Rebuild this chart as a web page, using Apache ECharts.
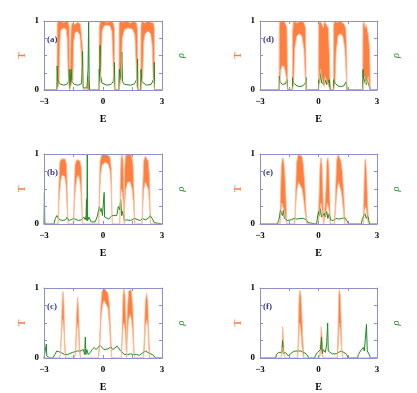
<!DOCTYPE html>
<html>
<head>
<meta charset="utf-8">
<script src="https://cdn.jsdelivr.net/npm/echarts@6/dist/echarts.min.js"></script>
<style>
  html, body { margin: 0; padding: 0; background: #fff; }
  #chart { width: 417px; height: 393px; }
</style>
</head>
<body>
<div id="chart"></div>
<script>
// T upper / lower envelopes and rho for every panel, [E, value]
const tHiA = [[-3,0],[-2.34,0],[-2.33,0.95],[-2.3,1],[-2.2,0.98],[-2.1,1],[-2.0,0.97],[-1.9,1],[-1.78,0.99],[-1.72,0.93],[-1.70,0],
  [-1.63,0],[-1.62,0.9],[-1.58,0.97],[-1.45,0.95],[-1.3,0.98],[-1.15,0.96],[-1.06,0.94],[-1.03,0.6],[-1.01,0],
  [-0.81,0],[-0.79,0.15],[-0.75,0.2],[-0.7,0.1],[-0.68,0],
  [-0.2,0],[-0.19,0.9],[-0.14,1],[0.0,1],[0.2,0.98],[0.4,1],[0.52,0.97],[0.58,0.9],[0.6,0],
  [0.81,0],[0.82,0.95],[0.86,1],[1.0,0.98],[1.2,1],[1.4,0.97],[1.6,1],[1.72,0.96],[1.76,0.85],[1.77,0],
  [1.92,0],[1.93,0.92],[1.97,1],[2.12,0.97],[2.3,1],[2.45,0.98],[2.57,0.97],[2.61,0.9],[2.62,0],[3,0]];
const tLoA = [[-3,0],[-2.33,0],[-2.23,0.1],[-2.19,0.7],[-2.14,0.87],[-2.0,0.9],[-1.88,0.88],[-1.82,0.75],[-1.77,0.2],[-1.71,0],
  [-1.62,0],[-1.53,0.15],[-1.49,0.7],[-1.42,0.83],[-1.3,0.85],[-1.18,0.8],[-1.12,0.6],[-1.06,0.15],[-1.01,0],
  [-0.19,0],[-0.1,0.3],[-0.05,0.85],[0.05,0.93],[0.2,0.94],[0.35,0.93],[0.45,0.85],[0.5,0.5],[0.55,0.1],[0.6,0],
  [0.82,0],[0.93,0.2],[0.98,0.75],[1.1,0.88],[1.3,0.9],[1.5,0.88],[1.62,0.8],[1.68,0.4],[1.72,0.05],[1.77,0],
  [1.93,0],[2.02,0.2],[2.07,0.7],[2.15,0.82],[2.3,0.85],[2.42,0.82],[2.5,0.65],[2.55,0.2],[2.62,0],[3,0]];
const rhoA = [[-3,0],[-2.34,0],[-2.33,0.35],[-2.3,0.15],[-2.2,0.09],[-2.0,0.07],[-1.85,0.08],[-1.76,0.12],[-1.72,0.3],[-1.70,0],
  [-1.63,0],[-1.62,0.3],[-1.58,0.12],[-1.45,0.08],[-1.25,0.07],[-1.1,0.09],[-1.04,0.56],[-1.02,0.1],[-1.01,0.03],
  [-0.82,0.03],[-0.8,0.1],[-0.76,0.3],[-0.73,1.0],[-0.7,0.1],[-0.68,0],
  [-0.2,0],[-0.19,0.3],[-0.17,0.12],[-0.15,0.65],[-0.12,0.2],[-0.05,0.1],[0.2,0.07],[0.4,0.08],[0.52,0.12],[0.58,0.4],[0.6,0],
  [0.81,0],[0.83,0.3],[0.9,0.15],[0.96,0.55],[0.99,0.12],[1.1,0.08],[1.4,0.07],[1.6,0.09],[1.71,0.15],[1.76,0.45],[1.77,0],
  [1.92,0],[1.93,0.3],[1.98,0.12],[2.2,0.07],[2.45,0.08],[2.56,0.15],[2.61,0.4],[2.62,0],[3,0]];

const tHiB = [[-3,0],[-2.29,0],[-2.25,0.5],[-2.2,0.88],[-2.12,0.93],[-2.03,0.95],[-1.93,0.93],[-1.85,0.85],[-1.81,0.4],[-1.78,0],
  [-1.5,0],[-1.46,0.5],[-1.42,0.85],[-1.33,0.92],[-1.25,0.93],[-1.17,0.9],[-1.1,0.8],[-1.07,0.3],[-1.05,0],
  [-0.22,0],[-0.19,0.5],[-0.15,0.9],[-0.08,0.98],[0.05,1],[0.2,0.99],[0.35,0.96],[0.42,0.8],[0.45,0.3],[0.47,0],
  [0.85,0],[0.88,0.6],[0.92,0.95],[0.97,1],[1.02,0.9],[1.06,0.5],[1.08,0.15],
  [1.1,0.8],[1.15,0.98],[1.3,1],[1.45,0.98],[1.53,0.85],[1.58,0.4],[1.61,0],
  [1.98,0],[2.02,0.5],[2.07,0.9],[2.15,0.97],[2.22,0.98],[2.3,0.9],[2.36,0.7],[2.4,0.2],[2.42,0],[3,0]];
const tLoB = [[-3,0],[-2.28,0],[-2.24,0.3],[-2.2,0.45],[-2.15,0.62],[-2.08,0.7],[-2.02,0.72],[-1.95,0.68],[-1.88,0.55],[-1.84,0.3],[-1.8,0.1],[-1.78,0],
  [-1.49,0],[-1.45,0.3],[-1.4,0.5],[-1.33,0.66],[-1.25,0.7],[-1.18,0.62],[-1.12,0.45],[-1.08,0.2],[-1.05,0],
  [-0.21,0],[-0.17,0.4],[-0.12,0.7],[-0.05,0.84],[0.1,0.88],[0.25,0.86],[0.35,0.78],[0.41,0.55],[0.44,0.2],[0.47,0],
  [0.86,0],[0.89,0.35],[0.93,0.5],[0.98,0.45],[1.03,0.3],[1.06,0.1],[1.08,0],
  [1.11,0.3],[1.16,0.5],[1.25,0.6],[1.38,0.6],[1.48,0.5],[1.55,0.3],[1.59,0.05],[1.61,0],
  [1.99,0],[2.03,0.3],[2.08,0.5],[2.15,0.6],[2.23,0.62],[2.3,0.5],[2.35,0.35],[2.39,0.1],[2.42,0],[3,0]];
const rhoB = [[-3,0],[-2.98,0.45],[-2.96,0.02],[-2.85,0],[-2.5,0],[-2.42,0.08],[-2.35,0.12],[-2.28,0.09],[-2.2,0.06],[-2.05,0.05],
  [-1.9,0.06],[-1.82,0.1],[-1.75,0.05],[-1.62,0.06],[-1.5,0.08],[-1.4,0.07],[-1.25,0.05],[-1.1,0.06],[-0.98,0.1],[-0.9,0.06],
  [-0.86,0.12],[-0.84,0.35],[-0.82,0.05],[-0.8,1.0],[-0.78,0.05],[-0.72,0.1],[-0.6,0.03],[-0.4,0.03],[-0.3,0.1],[-0.22,0.2],
  [-0.18,0.25],[-0.12,0.18],[-0.08,0.22],[-0.03,0.12],[0.02,0.3],[0.06,0.45],[0.08,0.1],[0.15,0.08],[0.3,0.07],[0.45,0.12],
  [0.55,0.1],[0.7,0.12],[0.78,0.25],[0.85,0.2],[0.9,0.35],[0.95,0.12],[1.0,0.18],[1.08,0.05],[1.2,0.06],[1.4,0.05],
  [1.6,0.08],[1.7,0.1],[1.78,0.06],[1.9,0.05],[2.0,0.08],[2.15,0.06],[2.3,0.08],[2.4,0.12],[2.5,0.08],[2.6,0.02],[2.65,0],[3,0]];

const tHiC = [[-3,0],[-2.2,0],[-2.17,0.05],[-2.12,0.4],[-2.07,0.85],[-2.03,0.95],[-1.99,0.8],[-1.95,0.3],[-1.9,0.05],[-1.88,0],
  [-1.45,0],[-1.4,0.1],[-1.35,0.6],[-1.29,0.87],[-1.24,0.7],[-1.19,0.2],[-1.14,0],
  [-0.25,0],[-0.18,0.2],[-0.12,0.7],[-0.05,0.95],[0.05,1],[0.15,0.99],[0.25,0.93],[0.33,0.75],[0.4,0.3],[0.45,0],
  [0.93,0],[0.97,0.4],[1.02,0.9],[1.07,1],[1.12,0.9],[1.17,0.5],[1.2,0.15],
  [1.24,0.7],[1.3,0.95],[1.38,0.98],[1.45,0.95],[1.52,0.7],[1.57,0.2],[1.6,0],
  [2.05,0],[2.1,0.3],[2.15,0.8],[2.22,0.93],[2.28,0.8],[2.33,0.35],[2.38,0],[3,0]];
const tLoC = [[-3,0],[-2.19,0],[-2.14,0.15],[-2.09,0.4],[-2.05,0.55],[-2.02,0.5],[-1.98,0.35],[-1.95,0.15],[-1.91,0],
  [-1.44,0],[-1.38,0.1],[-1.33,0.4],[-1.29,0.5],[-1.25,0.4],[-1.21,0.12],[-1.15,0],
  [-0.24,0],[-0.16,0.15],[-0.1,0.55],[-0.03,0.75],[0.05,0.82],[0.15,0.82],[0.25,0.72],[0.32,0.5],[0.38,0.2],[0.44,0],
  [0.94,0],[0.98,0.25],[1.02,0.45],[1.07,0.5],[1.12,0.4],[1.16,0.2],[1.2,0],
  [1.24,0.3],[1.3,0.55],[1.38,0.62],[1.45,0.55],[1.51,0.35],[1.56,0.1],[1.6,0],
  [2.06,0],[2.11,0.15],[2.16,0.45],[2.22,0.55],[2.28,0.45],[2.32,0.15],[2.37,0],[3,0]];
const rhoC = [[-3,0],[-2.9,0],[-2.88,0.2],[-2.86,0.03],[-2.8,0.02],[-2.7,0],[-2.55,0],[-2.45,0.05],[-2.35,0.1],[-2.25,0.1],
  [-2.15,0.08],[-2.05,0.06],[-1.95,0.05],[-1.8,0.05],[-1.7,0.07],[-1.55,0.08],[-1.45,0.09],[-1.3,0.1],[-1.15,0.1],[-1.0,0.12],
  [-0.93,0.05],[-0.9,0.3],[-0.87,0.05],[-0.82,0.12],[-0.75,0.05],[-0.65,0.08],[-0.55,0.12],[-0.45,0.15],[-0.35,0.12],
  [-0.25,0.15],[-0.15,0.18],[-0.05,0.15],[0.05,0.12],[0.15,0.1],[0.25,0.13],[0.4,0.16],[0.5,0.12],[0.6,0.14],[0.72,0.17],
  [0.8,0.15],[0.9,0.1],[1.0,0.12],[1.1,0.05],[1.25,0.05],[1.4,0.06],[1.55,0.05],[1.7,0.05],[1.85,0.04],[2.0,0.07],
  [2.15,0.1],[2.25,0.1],[2.35,0.07],[2.5,0.05],[2.6,0.03],[2.7,0],[3,0]];

const tHiD = [[-3,0],[-2.02,0],[-2.01,0.9],[-1.98,1],[-1.9,0.98],[-1.8,1],[-1.7,0.97],[-1.62,0.9],[-1.6,0.5],[-1.58,0],
  [-1.34,0],[-1.33,0.85],[-1.28,1],[-1.1,0.97],[-0.9,1],[-0.75,0.98],[-0.66,0.9],[-0.63,0],
  [0,0],[0.01,0.95],[0.05,1],[0.15,0.97],[0.25,0.9],[0.3,1],[0.4,0.98],[0.5,0.9],[0.56,0.5],[0.6,0],
  [0.77,0],[0.78,0.95],[0.82,1],[0.95,0.98],[1.1,1],[1.3,0.96],[1.4,0.9],[1.45,0.5],[1.46,0],
  [2.27,0],[2.28,0.95],[2.32,1],[2.4,0.9],[2.45,0.95],[2.55,0.8],[2.62,0.6],[2.66,0],[3,0]];
const tLoD = [[-3,0],[-2.02,0],[-1.98,0.1],[-1.93,0.3],[-1.85,0.36],[-1.75,0.33],[-1.66,0.2],[-1.6,0.05],[-1.58,0],
  [-1.34,0],[-1.27,0.1],[-1.22,0.6],[-1.12,0.78],[-0.98,0.82],[-0.85,0.78],[-0.75,0.6],[-0.68,0.2],[-0.63,0],
  [0,0],[0.05,0.15],[0.1,0.3],[0.15,0.3],[0.22,0.1],[0.27,0.05],[0.35,0.2],[0.45,0.2],[0.52,0.05],[0.6,0],
  [0.77,0],[0.85,0.1],[0.9,0.55],[1.0,0.78],[1.12,0.82],[1.25,0.78],[1.35,0.6],[1.42,0.2],[1.46,0],
  [2.27,0],[2.32,0.15],[2.4,0.2],[2.48,0.1],[2.55,0.2],[2.62,0.05],[2.66,0],[3,0]];
const rhoD = [[-3,0],[-2.02,0],[-2.01,0.2],[-1.97,0.12],[-1.85,0.08],[-1.7,0.09],[-1.62,0.15],[-1.58,0],
  [-1.34,0],[-1.33,0.18],[-1.28,0.1],[-1.1,0.06],[-0.95,0.05],[-0.8,0.06],[-0.68,0.1],[-0.64,0.18],[-0.63,0],
  [0,0],[0.01,0.15],[0.05,0.1],[0.12,0.25],[0.16,0.1],[0.25,0.12],[0.3,0.08],[0.38,0.15],[0.42,0.08],[0.5,0.12],[0.56,0.15],[0.6,0],
  [0.77,0],[0.78,0.15],[0.85,0.1],[1.0,0.06],[1.12,0.05],[1.3,0.06],[1.42,0.12],[1.46,0],
  [2.27,0],[2.28,0.3],[2.32,0.1],[2.38,0.12],[2.42,0.2],[2.45,0.08],[2.5,0.15],[2.55,0.1],[2.62,0.12],[2.66,0],[3,0]];

const tHiE = [[-3,0],[-1.98,0],[-1.94,0.5],[-1.9,0.85],[-1.84,0.95],[-1.78,0.9],[-1.72,0.7],[-1.66,0.3],[-1.62,0],
  [-1.22,0],[-1.17,0.5],[-1.12,0.88],[-1.05,0.99],[-0.95,1],[-0.85,0.97],[-0.78,0.85],[-0.7,0.55],[-0.64,0.2],[-0.6,0],
  [-0.02,0],[0.03,0.4],[0.08,0.85],[0.13,0.95],[0.18,0.85],[0.22,0.5],[0.26,0.1],[0.28,0],
  [0.33,0],[0.38,0.5],[0.43,0.9],[0.48,0.95],[0.53,0.85],[0.57,0.45],[0.61,0],
  [0.82,0],[0.88,0.5],[0.93,0.9],[1.0,1],[1.08,0.98],[1.15,0.9],[1.22,0.75],[1.3,0.4],[1.36,0],
  [2.3,0],[2.34,0.6],[2.38,0.9],[2.42,0.93],[2.47,0.7],[2.52,0.3],[2.57,0],[3,0]];
const tLoE = [[-3,0],[-1.97,0],[-1.92,0.2],[-1.87,0.3],[-1.83,0.28],[-1.77,0.2],[-1.7,0.1],[-1.63,0],
  [-1.21,0],[-1.16,0.3],[-1.1,0.5],[-1.02,0.6],[-0.93,0.6],[-0.84,0.5],[-0.76,0.35],[-0.68,0.15],[-0.61,0],
  [-0.01,0],[0.05,0.15],[0.1,0.25],[0.14,0.3],[0.18,0.2],[0.23,0.08],[0.27,0],
  [0.34,0],[0.4,0.2],[0.45,0.3],[0.49,0.3],[0.54,0.2],[0.58,0.05],[0.6,0],
  [0.83,0],[0.9,0.3],[0.96,0.5],[1.03,0.6],[1.1,0.58],[1.18,0.45],[1.26,0.25],[1.32,0.05],[1.35,0],
  [2.31,0],[2.36,0.2],[2.41,0.25],[2.46,0.2],[2.51,0.08],[2.56,0],[3,0]];
const rhoE = [[-3,0],[-2.1,0],[-2.05,0.05],[-2.0,0.1],[-1.95,0.2],[-1.9,0.15],[-1.85,0.12],[-1.8,0.2],[-1.75,0.08],[-1.68,0.1],
  [-1.6,0.05],[-1.5,0.03],[-1.4,0.06],[-1.25,0.08],[-1.1,0.07],[-0.95,0.08],[-0.8,0.08],[-0.7,0.1],[-0.62,0.06],[-0.55,0.02],
  [-0.5,0],[-0.1,0],[-0.05,0.1],[0.0,0.18],[0.05,0.12],[0.1,0.22],[0.15,0.1],[0.2,0.12],[0.25,0.08],[0.3,0.15],[0.35,0.1],
  [0.42,0.18],[0.48,0.08],[0.55,0.15],[0.62,0.06],[0.75,0.05],[0.9,0.08],[1.05,0.07],[1.2,0.08],[1.35,0.09],[1.45,0.05],
  [1.55,0],[2.2,0],[2.25,0.08],[2.32,0.1],[2.38,0.15],[2.45,0.08],[2.52,0.12],[2.58,0.05],[2.62,0],[3,0]];

const tHiF = [[-3,0],[-1.92,0],[-1.87,0.1],[-1.84,0.45],[-1.8,0.3],[-1.76,0.05],[-1.72,0],
  [-1.08,0],[-1.04,0.3],[-1.0,0.85],[-0.96,0.97],[-0.9,0.9],[-0.85,0.6],[-0.8,0.25],[-0.75,0],
  [0.05,0],[0.1,0.2],[0.14,0.45],[0.18,0.3],[0.22,0.05],[0.25,0],
  [0.96,0],[1.0,0.4],[1.04,0.9],[1.07,0.98],[1.12,0.9],[1.16,0.55],[1.2,0.15],[1.24,0],[3,0]];
const tLoF = [[-3,0],[-1.91,0],[-1.85,0.15],[-1.81,0.1],[-1.73,0],
  [-1.07,0],[-1.02,0.2],[-0.97,0.5],[-0.92,0.45],[-0.87,0.25],[-0.81,0.05],[-0.76,0],
  [0.06,0],[0.12,0.12],[0.16,0.1],[0.24,0],
  [0.97,0],[1.02,0.2],[1.07,0.5],[1.12,0.4],[1.16,0.2],[1.23,0],[3,0]];
const rhoF = [[-3,0],[-2.2,0],[-2.15,0.05],[-2.05,0.08],[-1.95,0.1],[-1.88,0.08],[-1.84,0.25],[-1.81,0.06],[-1.7,0.08],[-1.6,0.06],
  [-1.55,0.03],[-1.5,0.05],[-1.35,0.08],[-1.2,0.1],[-1.05,0.1],[-0.9,0.1],[-0.75,0.08],[-0.6,0.05],[-0.5,0],[-0.2,0],
  [-0.15,0.04],[-0.05,0.08],[0.05,0.1],[0.1,0.12],[0.16,0.3],[0.19,0.06],[0.25,0.12],[0.35,0.08],[0.42,0.2],[0.47,0.5],[0.5,0.1],
  [0.55,0.12],[0.6,0.08],[0.7,0.06],[0.8,0.08],[0.9,0.06],[1.0,0.08],[1.15,0.1],[1.3,0.08],[1.45,0.05],[1.5,0],[2.0,0],
  [2.05,0.05],[2.15,0.1],[2.25,0.08],[2.3,0.15],[2.35,0.1],[2.42,0.12],[2.46,0.48],[2.5,0.1],[2.55,0.08],[2.62,0.04],[2.66,0],[3,0]];

const panelLabels = ['(a)', '(b)', '(c)', '(d)', '(e)', '(f)'];
const xTickLabels = { '-3': '\u22123', '0': '0', '3': '3' };
const yTickLabels = { '0': '0', '1': '1' };

const panels = [
  { hi: tHiA, lo: tLoA, rho: rhoA },
  { hi: tHiB, lo: tLoB, rho: rhoB },
  { hi: tHiC, lo: tLoC, rho: rhoC },
  { hi: tHiD, lo: tLoD, rho: rhoD },
  { hi: tHiE, lo: tLoE, rho: rhoE },
  { hi: tHiF, lo: tLoF, rho: rhoF }
];

const frameColor = '#8f8fcc';
const orange = '#ff7f40';
const lightOrange = '#ffb88f';
const green = '#1f8c1f';
const serif = '"Liberation Serif", "DejaVu Serif", serif';

const colLeft = [44, 260];
const colWidth = [118, 117];
const rowTop = [21, 154, 288];
const rowHeight = [69, 70, 70];

const grids = [], xAxes = [], yAxes = [], series = [], titles = [];

panels.forEach((p, i) => {
  const col = i < 3 ? 0 : 1;
  const row = i % 3;
  grids.push({ left: colLeft[col], top: rowTop[row], width: colWidth[col], height: rowHeight[row] });

  const axLine = { show: true, onZero: false, lineStyle: { color: frameColor, width: 1 } };
  const tick = { show: true, inside: true, length: 3, lineStyle: { color: frameColor } };

  xAxes.push({
    gridIndex: i, type: 'value', min: -3, max: 3, interval: 1.5, z: 10,
    axisLine: axLine, axisTick: tick, splitLine: { show: false },
    axisLabel: {
      margin: 7, color: '#000', fontFamily: serif, fontWeight: 'bold', fontSize: 9,
      formatter: v => xTickLabels[String(v)] || ''
    },
    name: 'E', nameLocation: 'middle', nameGap: 24,
    nameTextStyle: { color: '#000', fontFamily: serif, fontWeight: 'bold', fontSize: 10 }
  });
  xAxes.push({
    gridIndex: i, type: 'value', position: 'top', min: -3, max: 3, interval: 1.5, z: 10,
    axisLine: axLine, axisTick: tick, axisLabel: { show: false }, splitLine: { show: false }
  });
  yAxes.push({
    gridIndex: i, type: 'value', min: 0, max: 1, interval: 0.25, z: 10,
    axisLine: axLine, axisTick: tick, splitLine: { show: false },
    axisLabel: {
      margin: 5, color: '#000', fontFamily: serif, fontWeight: 'bold', fontSize: 9,
      formatter: v => yTickLabels[String(v)] || ''
    },
    name: 'T', nameLocation: 'middle', nameGap: 17, nameRotate: 90,
    nameTextStyle: { color: orange, fontFamily: serif, fontWeight: 'bold', fontSize: 10 }
  });
  yAxes.push({
    gridIndex: i, type: 'value', position: 'right', min: 0, max: 1, interval: 0.25, z: 10,
    axisLine: axLine, axisTick: tick, axisLabel: { show: false }, splitLine: { show: false },
    name: '\u03c1', nameLocation: 'middle', nameGap: 14, nameRotate: 90,
    nameTextStyle: { color: green, fontFamily: serif, fontStyle: 'italic', fontSize: 10 }
  });

  const ax = { xAxisIndex: 2 * i, yAxisIndex: 2 * i, showSymbol: false, animation: false, silent: true };
  // dense T oscillations: orange up to the upper envelope
  series.push(Object.assign({
    type: 'line', data: p.hi, z: 2,
    lineStyle: { color: lightOrange, width: 0.8 },
    areaStyle: { color: orange, opacity: 1 }
  }, ax));
  // white inside the lower envelope
  series.push(Object.assign({
    type: 'line', data: p.lo, z: 3,
    lineStyle: { width: 0 },
    areaStyle: { color: '#fff', opacity: 1 }
  }, ax));
  series.push(Object.assign({
    type: 'line', data: p.rho, z: 4,
    lineStyle: { color: green, width: 1 }
  }, ax));
  // lower envelope outline (and the T = 0 baseline)
  series.push(Object.assign({
    type: 'line', data: p.lo, z: 5,
    lineStyle: { color: lightOrange, width: 0.8 }
  }, ax));

  titles.push({
    text: panelLabels[i], left: colLeft[col] + 3, top: rowTop[row] + 14, padding: 0,
    textStyle: { color: '#3a3a8a', fontFamily: serif, fontWeight: 'bold', fontSize: 9 }
  });
});

const chart = echarts.init(document.getElementById('chart'), null, { renderer: 'canvas' });
chart.setOption({
  animation: false,
  backgroundColor: '#fff',
  title: titles,
  grid: grids,
  xAxis: xAxes,
  yAxis: yAxes,
  series: series
});
</script>
</body>
</html>
